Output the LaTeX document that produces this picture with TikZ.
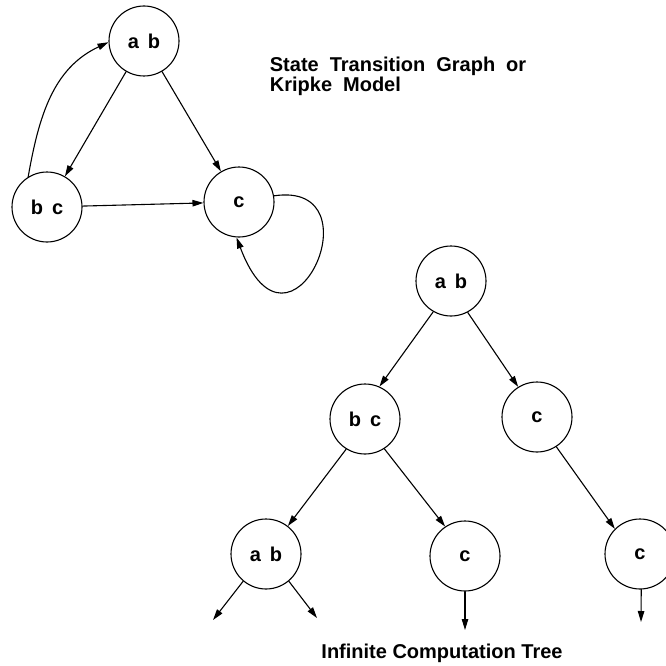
\documentclass[tikz,border=0pt]{standalone}
\usepackage{fontspec}
\setmainfont{Liberation Sans}
\usetikzlibrary{arrows.meta}

\begin{document}
\begin{tikzpicture}[x=1pt,y=-1pt,line width=1.1pt,line cap=round,line join=round,
  >={Triangle[length=11pt,width=6.5pt]},
  every node/.style={font=\fontsize{20}{15}\selectfont\bfseries},
  state/.style={circle,draw,minimum size=70pt,inner sep=0pt},
  caption/.style={align=left}]
  \useasboundingbox (0,0) rectangle (665,666);
  % kripke model
  \node[state] (kab) at (144,41) {a\hspace{.45em}b};
  \node[state] (kbc) at (47,207) {b\hspace{.45em}c};
  \node[state] (kc) at (239,202) {c};
  \draw[->] (kab) -- (kbc);
  \draw[->] (kab) -- (kc);
  \draw[->] (kbc) -- (kc);
  \draw[->] (kbc.122) to[out=80,in=205] (kab.182);
  \draw[->] (kc.10) .. controls (380,180) and (290,380) .. (kc.266);
  \node[caption,anchor=north west,execute at begin node={\spaceskip=.55em\relax}] (title) at (266,53)
    {State Transition Graph or\\Kripke Model};
  % computation tree
  \node[state] (tab) at (451,281) {a\hspace{.45em}b};
  \node[state] (tbc) at (365,419) {b\hspace{.45em}c};
  \node[state] (tc) at (537,417) {c};
  \node[state] (tab2) at (266,554) {a\hspace{.45em}b};
  \node[state] (tc2) at (465,556) {c};
  \node[state] (tc3) at (640,554) {c};
  \coordinate (l1) at (213,620);
  \coordinate (l2) at (317,618);
  \coordinate (l3) at (465,630);
  \coordinate (l4) at (641,622);
  \draw[->] (tab.240) -- (tbc.66);
  \draw[->] (tab.-62) -- (tc.122);
  \draw[->] (tbc.-122) -- (tab2.52);
  \draw[->] (tbc.-57) -- (tc2.124);
  \draw[->] (tc.-57) -- (tc3.135);
  \draw[->] (tab2.-130) -- (l1);
  \draw[->] (tab2.-50) -- (l2);
  \draw[->] (tc2.south) -- (l3);
  \draw[->] (tc3.-88) -- (l4);
  \node[caption] (tree) at (442,653) {Infinite Computation Tree};
\end{tikzpicture}
\end{document}
